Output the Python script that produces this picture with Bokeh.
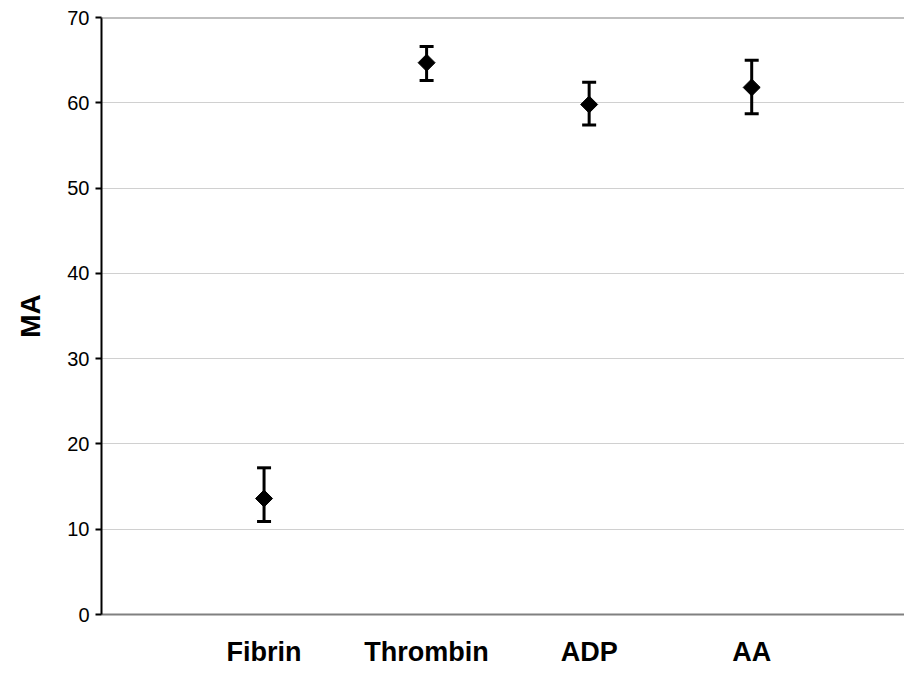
import math
from bokeh.plotting import figure
from bokeh.models import ColumnDataSource, Whisker, TeeHead, FixedTicker, Span
from bokeh.embed import file_html
from bokeh.resources import INLINE

categories = ["Fibrin", "Thrombin", "ADP", "AA"]
positions = [1, 2, 3, 4]
mean_ma = [13.6, 64.7, 59.8, 61.8]
lower_ma = [10.9, 62.6, 57.4, 58.7]
upper_ma = [17.2, 66.6, 62.4, 65.0]
y_ticks = [0, 10, 20, 30, 40, 50, 60, 70]

src = ColumnDataSource(dict(x=positions, y=mean_ma, lo=lower_ma, hi=upper_ma))

p = figure(width=904, height=679, x_range=(0, 4.94), y_range=(0, 70),
           output_backend="svg", toolbar_location=None,
           min_border_left=101, min_border_top=17, min_border_bottom=65,
           min_border_right=0)
p.background_fill_color = "white"
p.border_fill_color = "white"
p.outline_line_color = None

font = "Liberation Sans"

# y axis
p.yaxis.ticker = FixedTicker(ticks=y_ticks)
p.yaxis.axis_label = "MA"
p.yaxis.axis_label_text_font = font
p.yaxis.axis_label_text_font_style = "bold"
p.yaxis.axis_label_text_font_size = "28px"
p.yaxis.axis_label_text_color = "black"
p.yaxis.axis_label_standoff = 18
p.yaxis.major_label_text_font = font
p.yaxis.major_label_text_font_size = "20px"
p.yaxis.major_label_text_color = "black"
p.yaxis.major_label_standoff = 6
p.yaxis.axis_line_color = "black"
p.yaxis.axis_line_width = 2
p.yaxis.major_tick_line_color = "black"
p.yaxis.major_tick_line_width = 2
p.yaxis.major_tick_out = 6
p.yaxis.major_tick_in = 0
p.yaxis.minor_tick_line_color = None

# x axis
p.xaxis.ticker = FixedTicker(ticks=positions)
p.xaxis.major_label_overrides = {pos: lab for pos, lab in zip(positions, categories)}
p.xaxis.major_label_text_font = font
p.xaxis.major_label_text_font_style = "bold"
p.xaxis.major_label_text_font_size = "27px"
p.xaxis.major_label_text_color = "black"
p.xaxis.major_label_standoff = 16
p.xaxis.axis_line_color = "#808080"
p.xaxis.axis_line_width = 2
p.xaxis.major_tick_line_color = None
p.xaxis.minor_tick_line_color = None

# grid
p.xgrid.grid_line_color = None
p.ygrid.ticker = FixedTicker(ticks=y_ticks)
p.ygrid.grid_line_color = "#a0a0a0"
p.ygrid.grid_line_width = 1
p.ygrid.grid_line_dash = "1 1"

# top border of plot area
p.add_layout(Span(location=70, dimension="width", line_color="#808080", line_width=2))

# error bars
w = Whisker(source=src, base="x", lower="lo", upper="hi",
            line_color="black", line_width=3,
            upper_head=TeeHead(size=14, line_color="black", line_width=3),
            lower_head=TeeHead(size=14, line_color="black", line_width=3))
p.add_layout(w)

p.scatter("x", "y", source=src, marker="square", size=12, angle=math.pi / 4,
          fill_color="black", line_color="black")

open("out.html", "w").write(file_html(p, INLINE))
